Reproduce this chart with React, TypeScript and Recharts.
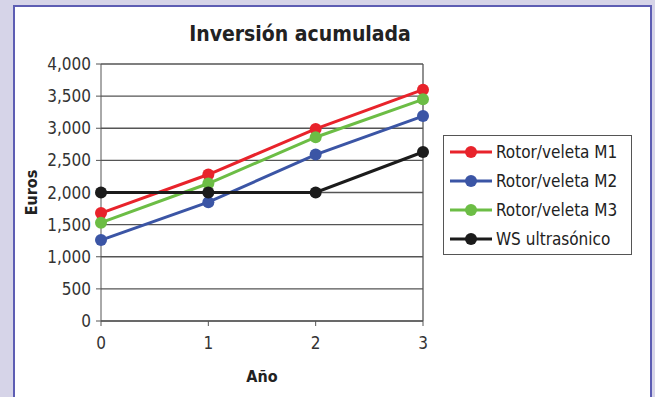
import { LineChart, Line, XAxis, YAxis, CartesianGrid, ReferenceLine } from 'recharts'

const years = ['0', '1', '2', '3']
const rotorM1 = [1680, 2280, 2990, 3600]
const rotorM2 = [1260, 1850, 2590, 3190]
const rotorM3 = [1530, 2140, 2860, 3450]
const wsUltrasonico = [2000, 2000, 2000, 2630]
const yTicks = [0, 500, 1000, 1500, 2000, 2500, 3000, 3500, 4000]

const series = [
  { key: 'm1', name: 'Rotor/veleta M1', color: '#e8232b' },
  { key: 'm2', name: 'Rotor/veleta M2', color: '#3b55a5' },
  { key: 'm3', name: 'Rotor/veleta M3', color: '#6cbd45' },
  { key: 'ws', name: 'WS ultrasónico', color: '#1b1b1b' },
]

const data = years.map((y, i) => ({
  year: y,
  m1: rotorM1[i],
  m2: rotorM2[i],
  m3: rotorM3[i],
  ws: wsUltrasonico[i],
}))

const FONT = '"DejaVu Sans Condensed", "Liberation Sans Narrow", "Roboto", sans-serif'
const tickStyle = { fontFamily: FONT, fontSize: 17, fill: '#333' }

const LegendBox = () => (
  <div
    style={{
      position: 'absolute',
      left: 443,
      top: 135,
      border: '1px solid #555',
      background: '#fff',
      width: 189,
      height: 120,
      boxSizing: 'border-box',
      padding: '1px 0 0 6px',
    }}
  >
    {series.map((s) => (
      <div key={s.key} style={{ display: 'flex', alignItems: 'center', height: 29 }}>
        <svg width={44} height={14}>
          <line x1={0} y1={7} x2={42} y2={7} stroke={s.color} strokeWidth={3} />
          <circle cx={21} cy={7} r={6} fill={s.color} />
        </svg>
        <span style={{ fontFamily: FONT, fontSize: 17, color: '#222', marginLeft: 2 }}>{s.name}</span>
      </div>
    ))}
  </div>
)

export default function App() {
  return (
    <div style={{ position: 'fixed', left: 0, top: 0, width: 655, height: 397, background: '#d6d4e8' }}>
      <div
        style={{
          position: 'absolute',
          left: 13,
          top: 5,
          width: 639,
          height: 400,
          background: '#fff',
          border: '2px solid #5d5db3',
          boxSizing: 'border-box',
        }}
      />
      <div
        style={{
          position: 'absolute',
          left: 0,
          width: 600,
          top: 22,
          textAlign: 'center',
          fontFamily: FONT,
          fontWeight: 'bold',
          fontSize: 21,
          color: '#222',
        }}
      >
        Inversión acumulada
      </div>
      <div style={{ position: 'absolute', left: 0, top: 0 }}>
        <LineChart width={655} height={397} data={data} margin={{ top: 64, right: 232, left: 0, bottom: 0 }}>
          <CartesianGrid vertical={false} stroke="#555" strokeWidth={1.3} />
          <XAxis
            dataKey="year"
            tick={tickStyle}
            tickLine={{ stroke: '#555' }}
            axisLine={{ stroke: '#555' }}
            tickSize={5}
            tickMargin={11}
            height={76}
            label={{ value: 'Año', position: 'insideTop', offset: 50, style: { fontFamily: FONT, fontSize: 16, fontWeight: 'bold', fill: '#222' } }}
          />
          <YAxis
            domain={[0, 4000]}
            ticks={yTicks}
            interval={0}
            tickFormatter={(v) => v.toLocaleString('en-US')}
            tick={tickStyle}
            tickLine={{ stroke: '#555' }}
            axisLine={{ stroke: '#555' }}
            tickSize={5}
            tickMargin={5}
            width={101}
            label={{ value: 'Euros', angle: -90, position: 'insideLeft', offset: 31, style: { fontFamily: FONT, fontSize: 16, fontWeight: 'bold', fill: '#222', textAnchor: 'middle' } }}
          />
          <ReferenceLine x="3" stroke="#555" strokeWidth={1.3} />
          {series.map((s) => (
            <Line
              key={s.key}
              dataKey={s.key}
              name={s.name}
              stroke={s.color}
              strokeWidth={3}
              dot={{ r: 6, fill: s.color, stroke: 'none' }}
              activeDot={false}
              isAnimationActive={false}
            />
          ))}
        </LineChart>
      </div>
      <LegendBox />
    </div>
  )
}
